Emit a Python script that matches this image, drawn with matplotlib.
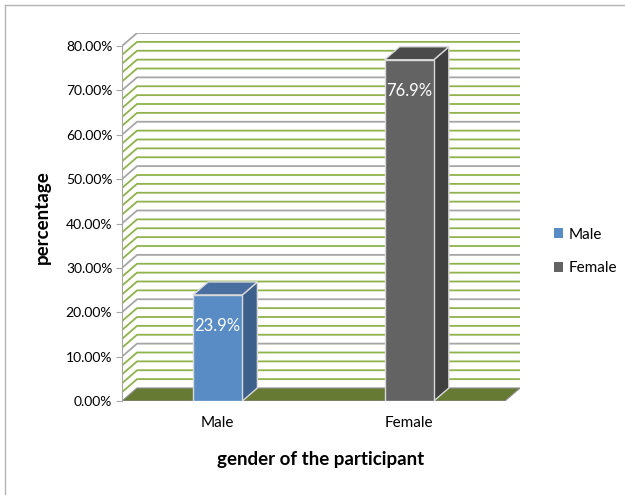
import matplotlib.pyplot as plt
from matplotlib.patches import Polygon, Patch
from matplotlib.lines import Line2D
from matplotlib.ticker import PercentFormatter

# Share of participants by gender
genders = ['Male', 'Female']
percentages = [23.9, 76.9]

front_colors = ['#598cc5', '#636363']
side_colors = ['#3c5f8b', '#404040']
top_colors = ['#4a6e9f', '#4b4b4b']

plt.rcParams['font.family'] = ['Lato', 'DejaVu Sans']

fig = plt.figure(figsize=(6.25, 4.95), dpi=100)

# depth offset of the pseudo-3D chart, in data units
DX = 0.0785
DY = 2.93
BAR_W = 0.257

ax = fig.add_axes([122 / 625, 94 / 495, 398 / 625, 368 / 495])
ax.set_xlim(-0.5, 1.5 + DX)
ax.set_ylim(0, 80 + DY)
ax.patch.set_alpha(0)

# back wall and side wall gridlines
for v in range(2, 82, 2):
    col = '#a6a6a6' if v % 10 == 0 else '#8fb24c'
    ax.add_line(Line2D([-0.5, -0.5 + DX, 1.5 + DX], [v, v + DY, v + DY],
                       color=col, lw=1.3, zorder=1))

# floor
ax.add_patch(Polygon([(-0.5, 0), (1.5, 0), (1.5 + DX, DY), (-0.5 + DX, DY)],
                     closed=True, facecolor='#677a34', edgecolor='#8c8c8c',
                     lw=0.8, zorder=2))

# bars: front face, right side and top
for i, (name, val) in enumerate(zip(genders, percentages)):
    x0, x1 = i - BAR_W / 2, i + BAR_W / 2
    side = Polygon([(x1, 0), (x1 + DX, DY), (x1 + DX, val + DY), (x1, val)],
                   closed=True, facecolor=side_colors[i], edgecolor='#d9d9d9',
                   lw=1, zorder=3)
    top = Polygon([(x0, val), (x1, val), (x1 + DX, val + DY), (x0 + DX, val + DY)],
                  closed=True, facecolor=top_colors[i], edgecolor='#d9d9d9',
                  lw=1, zorder=3)
    front = Polygon([(x0, 0), (x1, 0), (x1, val), (x0, val)],
                    closed=True, facecolor=front_colors[i], edgecolor='#d9d9d9',
                    lw=1, zorder=4)
    for p in (side, top, front):
        ax.add_patch(p)
    ax.text(i, val - 7.0, f'{val}%', color='white', fontsize=12,
            ha='center', va='center', zorder=5)

# axes styling
for s in ['top', 'right', 'bottom']:
    ax.spines[s].set_visible(False)
ax.spines['left'].set_bounds(0, 80)
ax.spines['left'].set_color('#a6a6a6')
ax.set_yticks(range(0, 90, 10))
ax.yaxis.set_major_formatter(PercentFormatter(decimals=2))
ax.tick_params(axis='y', length=4, color='#a6a6a6', labelsize=10, pad=3)
ax.set_xticks(range(len(genders)))
ax.set_xticklabels(genders)
ax.tick_params(axis='x', length=0, labelsize=11, pad=11)

ax.set_ylabel('percentage', fontsize=13.5, fontweight='bold', labelpad=11)
ax.set_xlabel('gender of the participant', fontsize=13.5, fontweight='bold',
              labelpad=15)

handles = [Patch(facecolor=c, edgecolor='none') for c in front_colors]
fig.legend(handles, genders, loc='center left',
           bbox_to_anchor=(540 / 625, 0.5 - 4 / 495),
           frameon=False, fontsize=11, handlelength=0.6, handleheight=0.6,
           handletextpad=0.4, labelspacing=1.3)

# thin frame on the top and left of the chart area
fig.add_artist(Line2D([5 / 625, 1], [1 - 5 / 495, 1 - 5 / 495],
                      transform=fig.transFigure, color='#b3b3b3', lw=1))
fig.add_artist(Line2D([5 / 625, 5 / 625], [0, 1 - 5 / 495],
                      transform=fig.transFigure, color='#b3b3b3', lw=1))

fig.savefig('out.png', dpi=100)
